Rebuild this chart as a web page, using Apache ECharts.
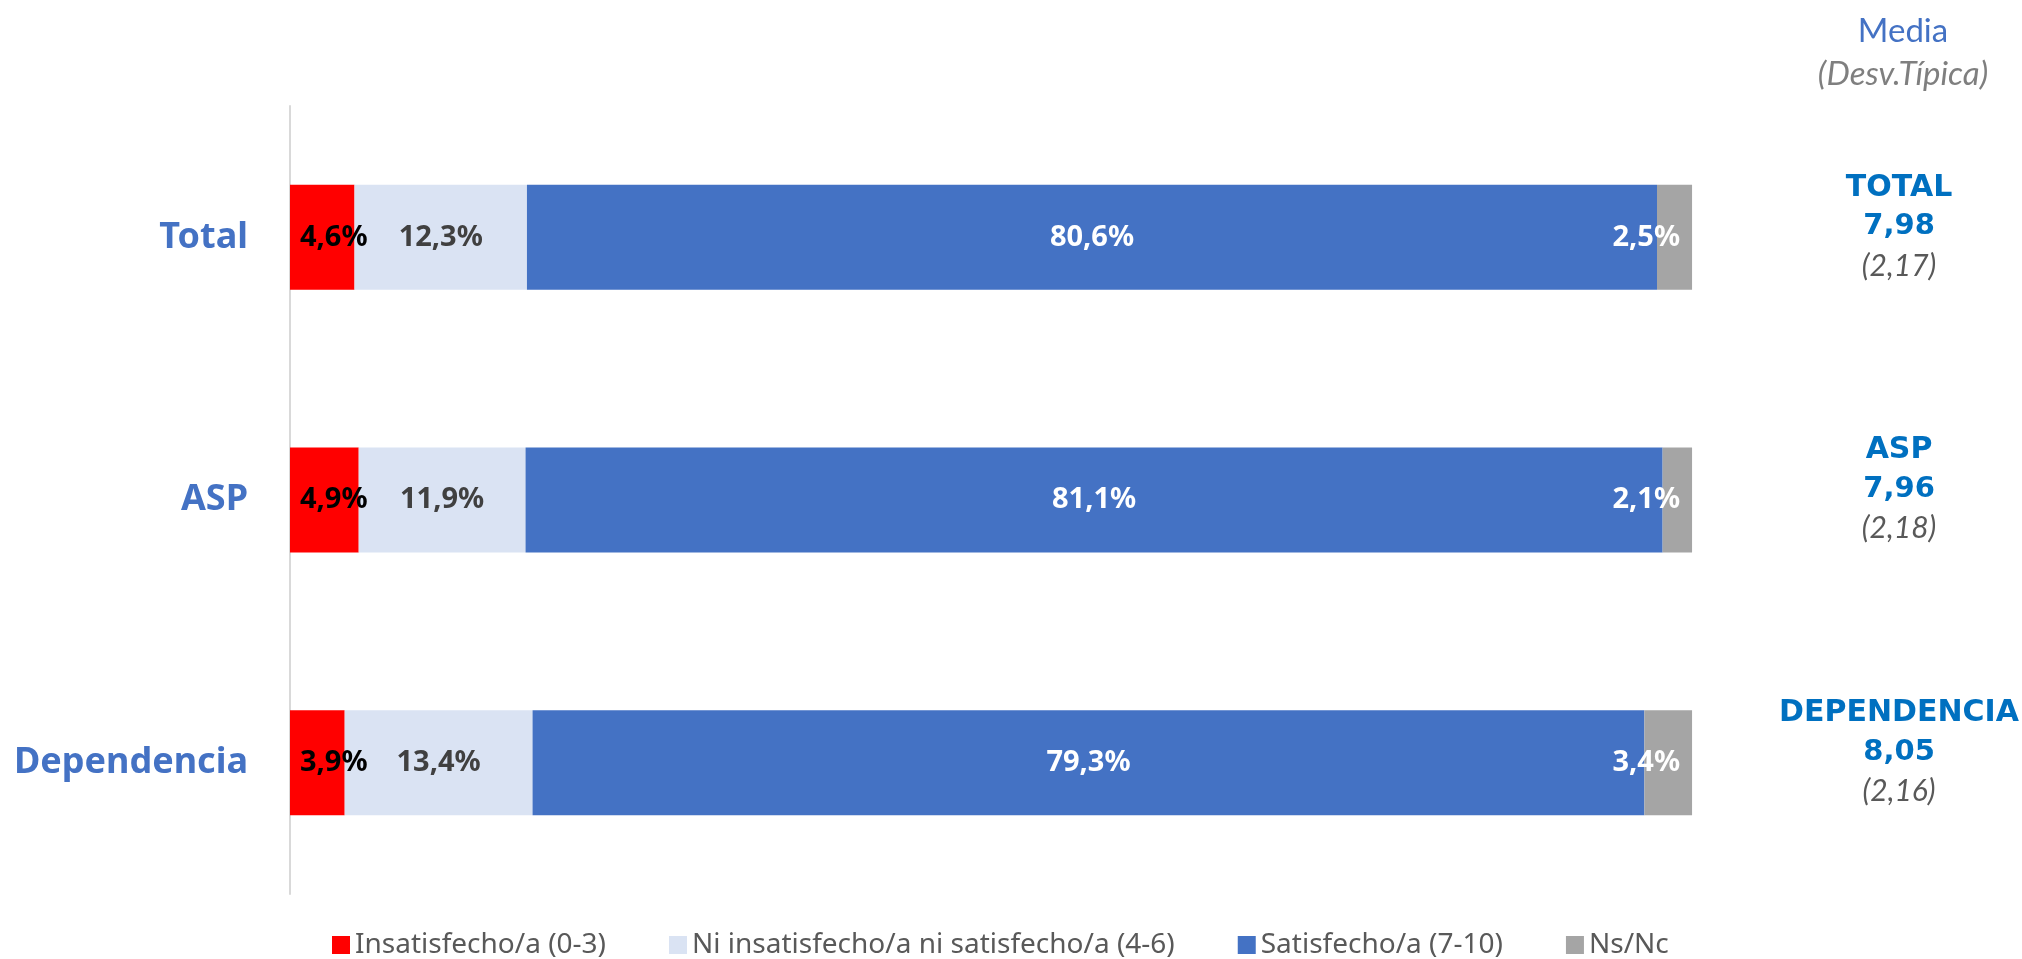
<!DOCTYPE html>
<html>
<head>
<meta charset="utf-8">
<script src="https://cdn.jsdelivr.net/npm/echarts@6/dist/echarts.min.js"></script>
<style>
html,body{margin:0;padding:0;background:#fff;}
#chart{width:2022px;height:959px;}
</style>
</head>
<body>
<div id="chart"></div>
<script>
const categories = ['Total', 'ASP', 'Dependencia'];
const seriesNames = ['Insatisfecho/a (0-3)', 'Ni insatisfecho/a ni satisfecho/a (4-6)', 'Satisfecho/a (7-10)', 'Ns/Nc'];
const insatisfecho = [4.6, 4.9, 3.9];
const neutral = [12.3, 11.9, 13.4];
const satisfecho = [80.6, 81.1, 79.3];
const nsnc = [2.5, 2.1, 3.4];
const groupNames = ['TOTAL', 'ASP', 'DEPENDENCIA'];
const means = ['7,98', '7,96', '8,05'];
const stdDevs = ['(2,17)', '(2,18)', '(2,16)'];

const FONT = 'Noto Sans';
const fmt = p => p.value.toFixed(1).replace('.', ',') + '%';

function barSeries(name, data, color, labelColor, position, distance) {
  return {
    name: name,
    type: 'bar',
    stack: 'total',
    data: data,
    barCategoryGap: '60%',
    itemStyle: { color: color },
    label: {
      show: true,
      position: position,
      distance: distance,
      formatter: fmt,
      color: labelColor,
      fontFamily: FONT,
      fontWeight: 'bold',
      fontSize: 29
    }
  };
}

const chart = echarts.init(document.getElementById('chart'));
chart.setOption({
  animation: false,
  backgroundColor: '#ffffff',
  title: {
    text: 'Media',
    subtext: '(Desv.Típica)',
    left: 1898,
    top: 10,
    textAlign: 'center',
    itemGap: 10,
    textStyle: { color: '#4472C4', fontFamily: 'Lato', fontWeight: 'normal', fontSize: 33 },
    subtextStyle: { color: '#7F7F7F', fontFamily: 'Lato', fontStyle: 'italic', fontSize: 33 }
  },
  grid: { left: 290, right: 329, top: 106, bottom: 65, containLabel: false },
  legend: {
    left: 327,
    top: 926,
    itemWidth: 18,
    itemHeight: 18,
    itemGap: 63,
    icon: 'rect',
    data: seriesNames,
    textStyle: { color: '#595959', fontFamily: FONT, fontSize: 28 }
  },
  xAxis: {
    type: 'value',
    min: 0,
    max: 100,
    show: false
  },
  yAxis: [{
    type: 'category',
    data: categories,
    inverse: true,
    axisLine: { show: true, lineStyle: { color: '#D9D9D9', width: 2 } },
    axisTick: { show: false },
    axisLabel: {
      margin: 42,
      color: '#4472C4',
      fontFamily: FONT,
      fontWeight: 'bold',
      fontSize: 36
    }
  }, {
    type: 'category',
    data: categories,
    inverse: true,
    position: 'right',
    axisLine: { show: false },
    axisTick: { show: false },
    axisLabel: {
      margin: 207,
      align: 'center',
      padding: [0, 0, 21, 0],
      formatter: (v, i) => '{a|' + groupNames[i] + '}\n{b|' + means[i] + '}\n{c|' + stdDevs[i] + '}',
      rich: {
        a: { color: '#0070C0', fontFamily: 'DejaVu Sans', fontWeight: 'bold', fontSize: 30, lineHeight: 39, align: 'center' },
        b: { color: '#0070C0', fontFamily: 'DejaVu Sans', fontWeight: 'bold', fontSize: 29, lineHeight: 39, align: 'center' },
        c: { color: '#595959', fontFamily: 'Lato', fontStyle: 'italic', fontSize: 30, lineHeight: 39, align: 'center' }
      }
    }
  }],
  series: [
    barSeries(seriesNames[0], insatisfecho, '#FF0000', '#000000', 'insideLeft', 10),
    barSeries(seriesNames[1], neutral, '#DAE3F3', '#404040', 'inside', 5),
    barSeries(seriesNames[2], satisfecho, '#4472C4', '#FFFFFF', 'inside', 5),
    barSeries(seriesNames[3], nsnc, '#A5A5A5', '#FFFFFF', 'insideRight', 12)
  ]
});
</script>
</body>
</html>
